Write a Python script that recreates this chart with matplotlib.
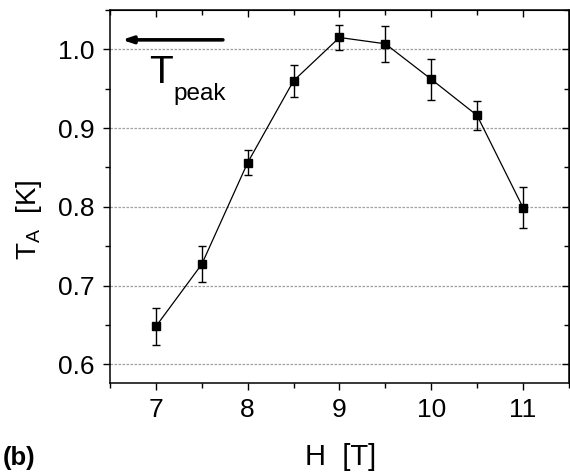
import matplotlib
matplotlib.use("Agg")
import matplotlib.pyplot as plt
from matplotlib.ticker import MultipleLocator

plt.rcParams["font.family"] = ["Liberation Sans", "DejaVu Sans"]
plt.rcParams["mathtext.fontset"] = "custom"
plt.rcParams["mathtext.rm"] = "Liberation Sans"
plt.rcParams["mathtext.it"] = "Liberation Sans"

# Measured activation temperature vs. magnetic field
field_T = [7.0, 7.5, 8.0, 8.5, 9.0, 9.5, 10.0, 10.5, 11.0]
temp_K = [0.648, 0.727, 0.856, 0.960, 1.015, 1.007, 0.962, 0.916, 0.799]
temp_err = [0.024, 0.023, 0.016, 0.020, 0.016, 0.023, 0.026, 0.018, 0.026]

x_ticks = [7, 8, 9, 10, 11]
y_ticks = [0.6, 0.7, 0.8, 0.9, 1.0]
y_tick_labels = ["0.6", "0.7", "0.8", "0.9", "1.0"]

fig = plt.figure(figsize=(5.70, 4.73), dpi=100)
ax = fig.add_axes([0.193, 0.190, 0.805, 0.789])

for yv in y_ticks:
    ax.axhline(yv, color="#a0a0a0", lw=0.9, ls=(0, (2.0, 1.2)), zorder=0)

ax.plot(field_T, temp_K, color="black", lw=0.9, zorder=2)
ax.errorbar(field_T, temp_K, yerr=temp_err, fmt="s", color="black",
            ms=6.3, ecolor="black", elinewidth=1.0, capsize=2.7,
            capthick=1.0, zorder=3)

ax.set_xlim(6.5, 11.5)
ax.set_ylim(0.576, 1.05)
ax.set_xticks(x_ticks)
ax.set_yticks(y_ticks)
ax.set_yticklabels(y_tick_labels)
ax.xaxis.set_minor_locator(MultipleLocator(0.5))
ax.yaxis.set_minor_locator(MultipleLocator(0.05))

for s in ax.spines.values():
    s.set_linewidth(1.1)

ax.tick_params(axis="both", which="major", labelsize=19, width=1.0,
               length=5, pad=6, colors="black")
ax.tick_params(axis="both", which="minor", width=1.0, length=3.5)
ax.tick_params(axis="x", which="both", direction="out", top=False)
ax.tick_params(axis="y", which="both", direction="out", right=False)

# inward ticks on the top and right frame
top = ax.secondary_xaxis("top")
top.set_xticks(x_ticks)
top.xaxis.set_minor_locator(MultipleLocator(0.5))
top.tick_params(which="both", direction="in", labeltop=False, width=1.0)
top.tick_params(which="major", length=5)
top.tick_params(which="minor", length=3.5)
right = ax.secondary_yaxis("right")
right.set_yticks(y_ticks)
right.yaxis.set_minor_locator(MultipleLocator(0.05))
right.tick_params(which="both", direction="in", labelright=False, width=1.0)
right.tick_params(which="major", length=5)
right.tick_params(which="minor", length=3.5)

fig.text(0.597, 0.034, "H  [T]", fontsize=21, ha="center", va="center")
fig.text(0.050, 0.535, r"T$_{\mathrm{A}}$  [K]", fontsize=20, rotation=90,
         ha="center", va="center")
fig.text(0.004, 0.032, "(b)", fontsize=18.5, fontweight="bold",
         ha="left", va="center")

# arrow marking the peak temperature
ax.annotate("", xy=(6.63, 1.012), xytext=(7.73, 1.012),
            arrowprops=dict(arrowstyle="-|>,head_length=0.6,head_width=0.2",
                            lw=2.6, color="black", capstyle="round",
                            shrinkA=0, shrinkB=0))
ax.text(6.93, 0.957, "T", fontsize=28, ha="left", va="baseline")
ax.text(7.19, 0.936, "peak", fontsize=17.5, ha="left", va="baseline")

fig.savefig("out.png", dpi=100)
